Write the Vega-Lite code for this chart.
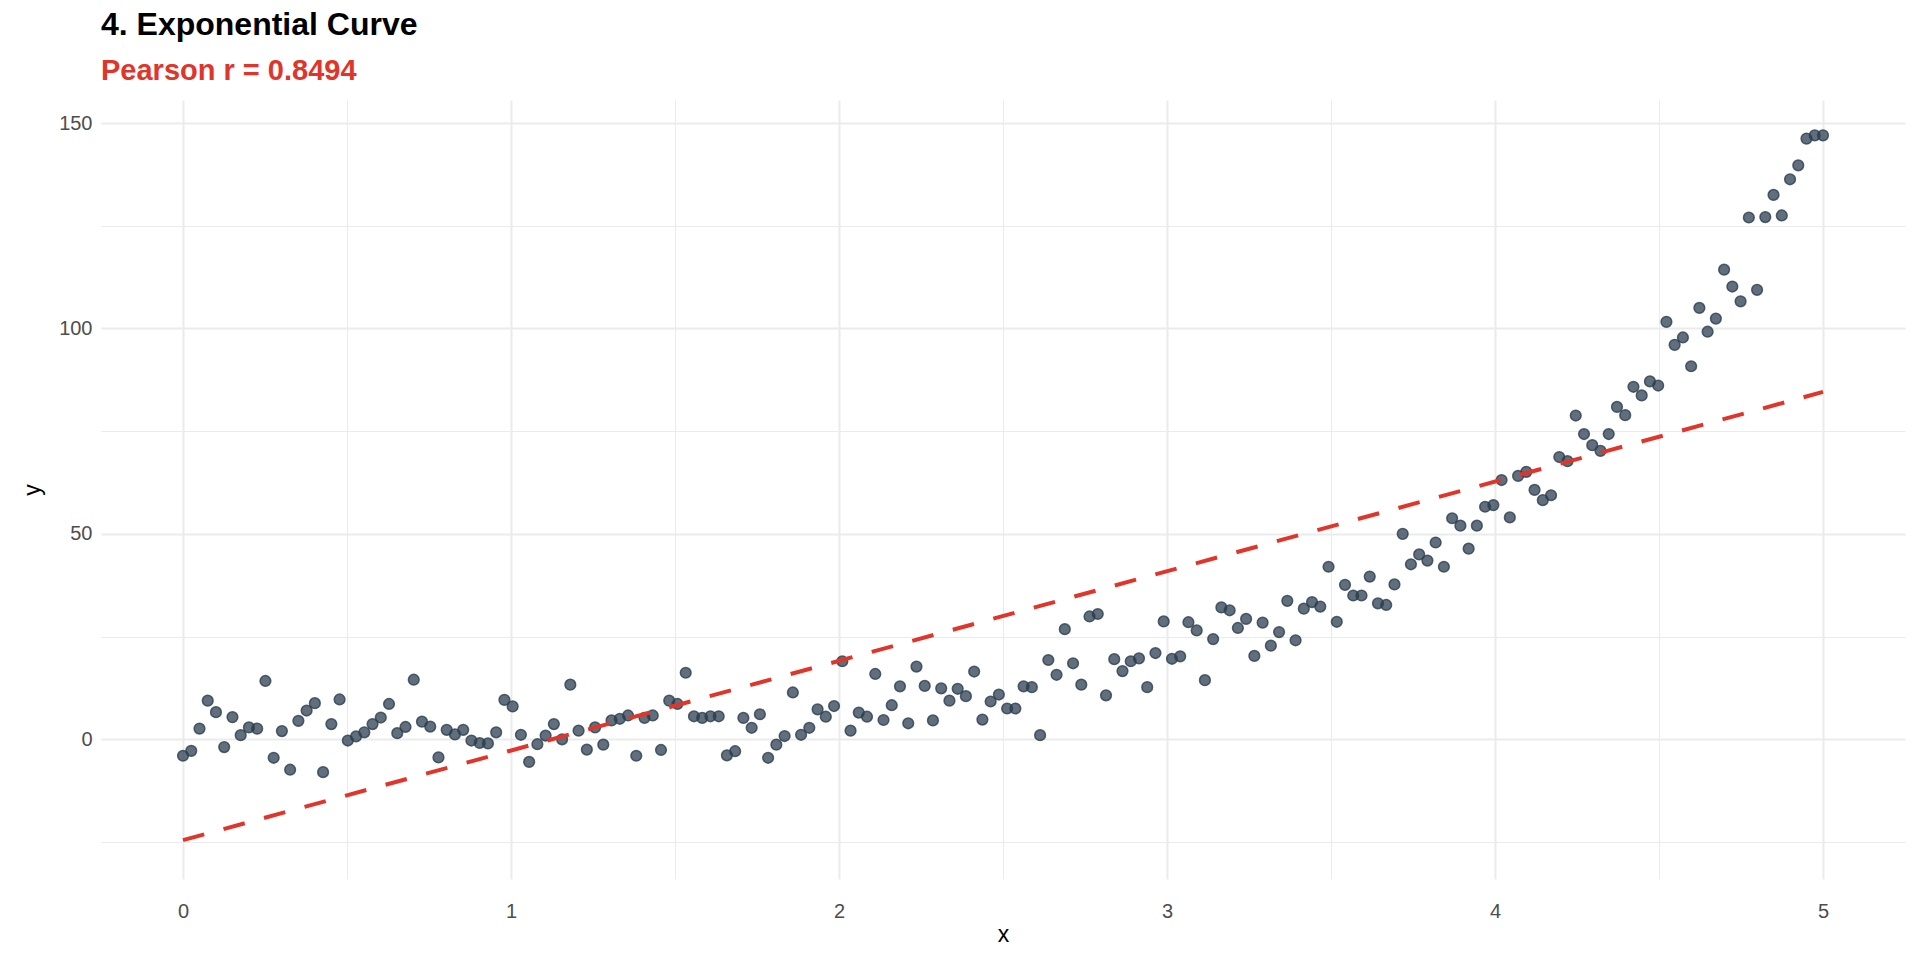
{
  "$schema": "https://vega.github.io/schema/vega-lite/v6.json",
  "autosize": "none",
  "width": 1804,
  "height": 779,
  "padding": {"left": 101, "top": 100, "right": 15, "bottom": 81},
  "background": "white",
  "title": {
    "text": "4. Exponential Curve",
    "subtitle": "Pearson r = 0.8494",
    "anchor": "start",
    "frame": "group",
    "font": "Liberation Sans",
    "fontSize": 32,
    "fontWeight": "bold",
    "color": "black",
    "subtitleFont": "Liberation Sans",
    "subtitleFontSize": 29,
    "subtitleFontWeight": "bold",
    "subtitleColor": "#e0352b",
    "subtitlePadding": 15,
    "offset": 13
  },
  "config": {
    "view": {"stroke": null},
    "axis": {
      "domain": false,
      "ticks": false,
      "grid": true,
      "gridColor": "#ebebeb",
      "labelFont": "Liberation Sans",
      "labelFontSize": 20,
      "labelColor": "#4d4d4d",
      "titleFont": "Liberation Sans",
      "titleFontSize": 23,
      "titleFontWeight": "normal",
      "titleColor": "black"
    }
  },
  "data": {
    "values": [
      {"x": 0, "y": -4.0}, {"x": 0.0251, "y": -2.8}, {"x": 0.0503, "y": 2.6}, {"x": 0.0754, "y": 9.4},
      {"x": 0.1005, "y": 6.6}, {"x": 0.1256, "y": -1.9}, {"x": 0.1508, "y": 5.4}, {"x": 0.1759, "y": 1.0},
      {"x": 0.2010, "y": 2.9}, {"x": 0.2261, "y": 2.6}, {"x": 0.2513, "y": 14.2}, {"x": 0.2764, "y": -4.5},
      {"x": 0.3015, "y": 2.0}, {"x": 0.3266, "y": -7.4}, {"x": 0.3518, "y": 4.5}, {"x": 0.3769, "y": 7.0},
      {"x": 0.4020, "y": 8.8}, {"x": 0.4271, "y": -8.0}, {"x": 0.4523, "y": 3.7}, {"x": 0.4774, "y": 9.7},
      {"x": 0.5025, "y": -0.3}, {"x": 0.5276, "y": 0.7}, {"x": 0.5528, "y": 1.7}, {"x": 0.5779, "y": 3.7},
      {"x": 0.6030, "y": 5.3}, {"x": 0.6281, "y": 8.6}, {"x": 0.6533, "y": 1.5}, {"x": 0.6784, "y": 3.0},
      {"x": 0.7035, "y": 14.5}, {"x": 0.7286, "y": 4.3}, {"x": 0.7538, "y": 3.1}, {"x": 0.7789, "y": -4.4},
      {"x": 0.8040, "y": 2.3}, {"x": 0.8291, "y": 1.2}, {"x": 0.8543, "y": 2.3}, {"x": 0.8794, "y": -0.3},
      {"x": 0.9045, "y": -0.9}, {"x": 0.9296, "y": -1.0}, {"x": 0.9548, "y": 1.7}, {"x": 0.9799, "y": 9.6},
      {"x": 1.0050, "y": 8.0}, {"x": 1.0302, "y": 1.1}, {"x": 1.0553, "y": -5.5}, {"x": 1.0804, "y": -1.2},
      {"x": 1.1055, "y": 0.9}, {"x": 1.1307, "y": 3.7}, {"x": 1.1558, "y": 0.0}, {"x": 1.1809, "y": 13.3},
      {"x": 1.2060, "y": 2.1}, {"x": 1.2312, "y": -2.5}, {"x": 1.2563, "y": 2.9}, {"x": 1.2814, "y": -1.3},
      {"x": 1.3065, "y": 4.6}, {"x": 1.3317, "y": 5.0}, {"x": 1.3568, "y": 5.8}, {"x": 1.3819, "y": -4.0},
      {"x": 1.4070, "y": 5.2}, {"x": 1.4322, "y": 5.8}, {"x": 1.4573, "y": -2.6}, {"x": 1.4824, "y": 9.4},
      {"x": 1.5075, "y": 8.6}, {"x": 1.5327, "y": 16.2}, {"x": 1.5578, "y": 5.6}, {"x": 1.5829, "y": 5.2},
      {"x": 1.6080, "y": 5.6}, {"x": 1.6332, "y": 5.6}, {"x": 1.6583, "y": -3.9}, {"x": 1.6834, "y": -2.9},
      {"x": 1.7085, "y": 5.2}, {"x": 1.7337, "y": 2.8}, {"x": 1.7588, "y": 6.1}, {"x": 1.7839, "y": -4.5},
      {"x": 1.8090, "y": -1.3}, {"x": 1.8342, "y": 0.8}, {"x": 1.8593, "y": 11.4}, {"x": 1.8844, "y": 1.1},
      {"x": 1.9095, "y": 2.8}, {"x": 1.9347, "y": 7.3}, {"x": 1.9598, "y": 5.5}, {"x": 1.9849, "y": 8.1},
      {"x": 2.0101, "y": 19.0}, {"x": 2.0352, "y": 2.1}, {"x": 2.0603, "y": 6.5}, {"x": 2.0854, "y": 5.5},
      {"x": 2.1106, "y": 15.9}, {"x": 2.1357, "y": 4.7}, {"x": 2.1608, "y": 8.3}, {"x": 2.1859, "y": 12.9},
      {"x": 2.2111, "y": 3.9}, {"x": 2.2362, "y": 17.7}, {"x": 2.2613, "y": 13.0}, {"x": 2.2864, "y": 4.6},
      {"x": 2.3116, "y": 12.4}, {"x": 2.3367, "y": 9.4}, {"x": 2.3618, "y": 12.3}, {"x": 2.3869, "y": 10.5},
      {"x": 2.4121, "y": 16.5}, {"x": 2.4372, "y": 4.8}, {"x": 2.4623, "y": 9.2}, {"x": 2.4874, "y": 10.9},
      {"x": 2.5126, "y": 7.5}, {"x": 2.5377, "y": 7.5}, {"x": 2.5628, "y": 12.9}, {"x": 2.5879, "y": 12.7},
      {"x": 2.6131, "y": 1.0}, {"x": 2.6382, "y": 19.3}, {"x": 2.6633, "y": 15.7}, {"x": 2.6884, "y": 26.8},
      {"x": 2.7136, "y": 18.5}, {"x": 2.7387, "y": 13.3}, {"x": 2.7638, "y": 29.9}, {"x": 2.7889, "y": 30.5},
      {"x": 2.8141, "y": 10.7}, {"x": 2.8392, "y": 19.5}, {"x": 2.8643, "y": 16.6}, {"x": 2.8894, "y": 19.0},
      {"x": 2.9146, "y": 19.7}, {"x": 2.9397, "y": 12.7}, {"x": 2.9648, "y": 21.0}, {"x": 2.9899, "y": 28.7},
      {"x": 3.0151, "y": 19.6}, {"x": 3.0402, "y": 20.2}, {"x": 3.0653, "y": 28.5}, {"x": 3.0905, "y": 26.5},
      {"x": 3.1156, "y": 14.4}, {"x": 3.1407, "y": 24.4}, {"x": 3.1658, "y": 32.1}, {"x": 3.1910, "y": 31.4},
      {"x": 3.2161, "y": 27.1}, {"x": 3.2412, "y": 29.3}, {"x": 3.2663, "y": 20.3}, {"x": 3.2915, "y": 28.4},
      {"x": 3.3166, "y": 22.8}, {"x": 3.3417, "y": 26.1}, {"x": 3.3668, "y": 33.7}, {"x": 3.3920, "y": 24.1},
      {"x": 3.4171, "y": 31.8}, {"x": 3.4422, "y": 33.4}, {"x": 3.4673, "y": 32.3}, {"x": 3.4925, "y": 42.0},
      {"x": 3.5176, "y": 28.6}, {"x": 3.5427, "y": 37.6}, {"x": 3.5678, "y": 35.0}, {"x": 3.5930, "y": 35.0},
      {"x": 3.6181, "y": 39.6}, {"x": 3.6432, "y": 33.1}, {"x": 3.6683, "y": 32.7}, {"x": 3.6935, "y": 37.7},
      {"x": 3.7186, "y": 50.0}, {"x": 3.7437, "y": 42.6}, {"x": 3.7688, "y": 45.0}, {"x": 3.7940, "y": 43.5},
      {"x": 3.8191, "y": 47.9}, {"x": 3.8442, "y": 42.0}, {"x": 3.8693, "y": 53.8}, {"x": 3.8945, "y": 52.0},
      {"x": 3.9196, "y": 46.4}, {"x": 3.9447, "y": 52.0}, {"x": 3.9698, "y": 56.6}, {"x": 3.9950, "y": 57.0},
      {"x": 4.0201, "y": 63.1}, {"x": 4.0452, "y": 54.0}, {"x": 4.0704, "y": 64.1}, {"x": 4.0955, "y": 65.1},
      {"x": 4.1206, "y": 60.7}, {"x": 4.1457, "y": 58.2}, {"x": 4.1709, "y": 59.4}, {"x": 4.1960, "y": 68.7},
      {"x": 4.2211, "y": 67.7}, {"x": 4.2462, "y": 78.8}, {"x": 4.2714, "y": 74.3}, {"x": 4.2965, "y": 71.6},
      {"x": 4.3216, "y": 70.2}, {"x": 4.3467, "y": 74.3}, {"x": 4.3719, "y": 80.9}, {"x": 4.3970, "y": 78.9},
      {"x": 4.4221, "y": 85.8}, {"x": 4.4472, "y": 83.7}, {"x": 4.4724, "y": 87.1}, {"x": 4.4975, "y": 86.1},
      {"x": 4.5226, "y": 101.6}, {"x": 4.5477, "y": 96.0}, {"x": 4.5729, "y": 97.8}, {"x": 4.5980, "y": 90.8},
      {"x": 4.6231, "y": 105.0}, {"x": 4.6482, "y": 99.2}, {"x": 4.6734, "y": 102.4}, {"x": 4.6985, "y": 114.3},
      {"x": 4.7236, "y": 110.2}, {"x": 4.7487, "y": 106.6}, {"x": 4.7739, "y": 127.0}, {"x": 4.7990, "y": 109.4},
      {"x": 4.8241, "y": 127.1}, {"x": 4.8492, "y": 132.5}, {"x": 4.8744, "y": 127.5}, {"x": 4.8995, "y": 136.3},
      {"x": 4.9246, "y": 139.7}, {"x": 4.9497, "y": 146.2}, {"x": 4.9749, "y": 147.0}, {"x": 5, "y": 147.0}
    ]
  },
  "encoding": {
    "x": {
      "field": "x",
      "type": "quantitative",
      "scale": {"domain": [-0.25, 5.25], "nice": false, "zero": false},
      "axis": {
        "title": "x",
        "values": [0, 0.5, 1, 1.5, 2, 2.5, 3, 3.5, 4, 4.5, 5],
        "labelExpr": "datum.value % 1 === 0 ? format(datum.value, 'd') : ''",
        "gridWidth": {"condition": {"test": "datum.value % 1 === 0", "value": 2}, "value": 1},
        "labelPadding": 22,
        "titlePadding": 2
      }
    },
    "y": {
      "field": "y",
      "type": "quantitative",
      "scale": {"domain": [-34, 155.6], "nice": false, "zero": false},
      "axis": {
        "title": "y",
        "values": [-25, 0, 25, 50, 75, 100, 125, 150],
        "labelExpr": "datum.value % 50 === 0 ? datum.label : ''",
        "gridWidth": {"condition": {"test": "datum.value % 50 === 0", "value": 2}, "value": 1},
        "labelPadding": 9,
        "titlePadding": 14
      }
    }
  },
  "layer": [
    {
      "mark": {
        "type": "circle",
        "size": 115,
        "color": "#2c3e50",
        "fillOpacity": 0.75,
        "stroke": "#2c3e50",
        "strokeOpacity": 0.8,
        "strokeWidth": 1.5
      }
    },
    {
      "transform": [{"regression": "y", "on": "x"}],
      "mark": {
        "type": "line",
        "color": "#e0352b",
        "strokeWidth": 4,
        "strokeDash": [22, 20]
      }
    }
  ]
}
